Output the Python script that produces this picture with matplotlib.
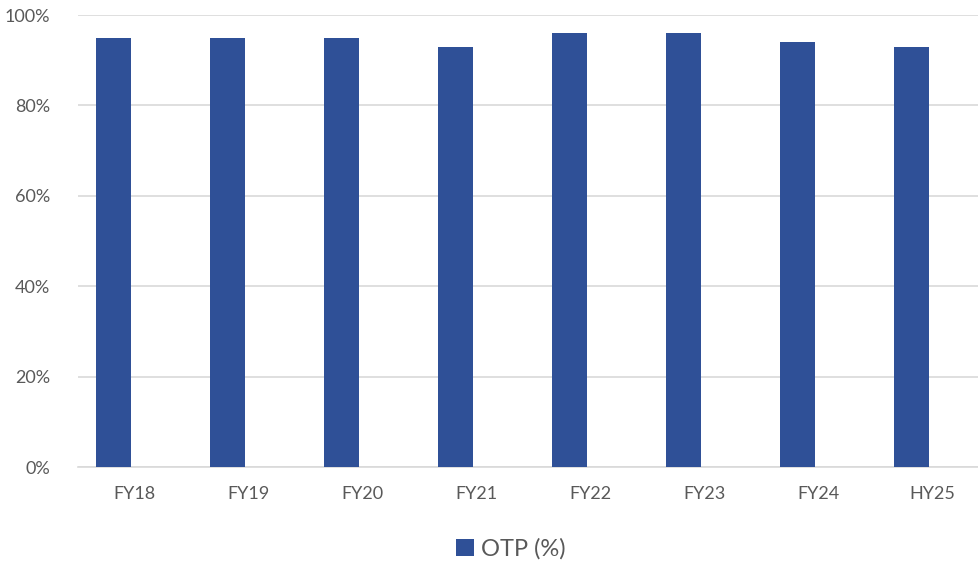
import matplotlib.pyplot as plt
from matplotlib.ticker import PercentFormatter

categories = ["FY18", "FY19", "FY20", "FY21", "FY22", "FY23", "FY24", "HY25"]
otp = [95, 95, 95, 93, 96, 96, 94, 93]

plt.rcParams['font.family'] = ['Lato', 'DejaVu Sans']

W, H = 979, 563
fig = plt.figure(figsize=(W / 100, H / 100), dpi=100)
left, right = 77.7, 989.7
bottom, top = 467, 15
ax = fig.add_axes([left / W, (H - bottom) / H, (right - left) / W, (bottom - top) / H])

x = range(len(categories))
ax.bar([i - 0.186 for i in x], otp, width=0.307, color='#2F5097', label='OTP (%)', zorder=3)

ax.set_xlim(-0.5, len(categories) - 0.5)
ax.set_ylim(0, 100)
ax.set_yticks([0, 20, 40, 60, 80, 100])
ax.yaxis.set_major_formatter(PercentFormatter(decimals=0))
ax.set_xticks(list(x))
ax.set_xticklabels(categories)

ax.grid(axis='y', color='#D9D9D9', linewidth=1.2, zorder=0)
for s in ['top', 'right', 'left']:
    ax.spines[s].set_visible(False)
ax.spines['bottom'].set_color('#D9D9D9')
ax.spines['bottom'].set_linewidth(1.2)
ax.tick_params(axis='both', length=0, colors='#595959', labelsize=13)
ax.tick_params(axis='y', pad=20)
ax.tick_params(axis='x', pad=14)

fig.legend(loc='center', bbox_to_anchor=(511 / W, 1 - 549 / H), frameon=False,
           fontsize=17, handlelength=0.75, handleheight=0.75, handletextpad=0.3,
           labelcolor='#595959')

fig.savefig("out.png", dpi=100)
